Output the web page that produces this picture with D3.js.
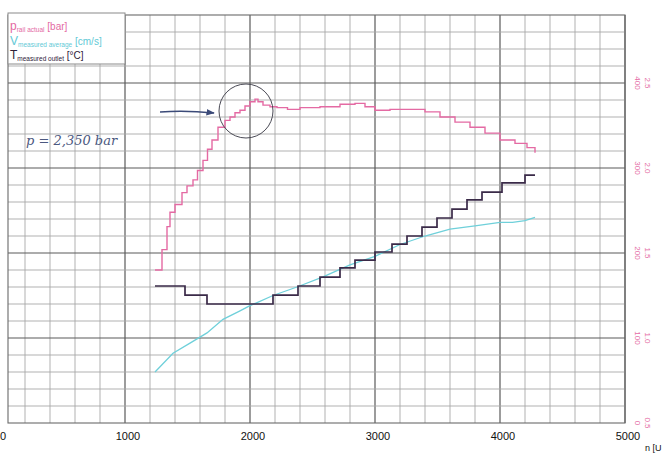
<!DOCTYPE html>
<html><head><meta charset="utf-8">
<script src="https://cdn.jsdelivr.net/npm/d3@7"></script>
<style>
html,body{margin:0;padding:0;background:#fff;overflow:hidden;}
svg{display:block;}
</style></head>
<body>
<script>
// ---- data ----
const xTickLabels = [0, 1000, 2000, 3000, 4000, 5000];
const pTickLabels = [0, 100, 200, 300, 400];
const vTickLabels = ["0.5", "1.0", "1.5", "2.0", "2.5"];

// rail pressure [bar] vs speed [rpm]
const pRpm = [1240,1296,1336,1360,1400,1456,1496,1544,1580,1624,1660,1696,1744,1800,1840,1880,1920,1960,2000,2040,2064,2104,2160,2216,2300,2400,2560,2720,2840,2920,3000,3120,3280,3400,3520,3640,3760,3880,4000,4120,4216,4280];
const pVal = [180,204,231,248,257,271,279,286,297,309,322,333,348,356,360,365,368,373,378,381,378,374,372,371,369,371,372,375,376,372,368,369,369,366,360,354,348,341,333,329,324,318];

// volume flow [cm/s] vs speed
const vRpm = [1240,1384,1520,1656,1784,1920,2000,2184,2376,2584,2800,3000,3200,3400,3600,3800,4000,4100,4200,4280];
const vVal = [0.80,0.91,0.97,1.03,1.11,1.16,1.19,1.25,1.30,1.36,1.43,1.48,1.55,1.60,1.64,1.66,1.68,1.68,1.69,1.71];

// temperature [°C] vs speed (stepwise)
const tRpm = [1240,1480,1656,2184,2384,2560,2720,2840,3000,3136,3256,3376,3496,3616,3736,3856,4016,4200,4280];
const tVal = [40.3,37.6,35.0,37.6,40.3,42.9,45.6,47.9,50.3,52.6,55.0,57.6,60.3,62.9,65.6,67.9,70.6,72.9,72.9];

const legendItems = [
  {main:"p", sub:"rail actual", unit:" [bar]", color:"#e46aa3"},
  {main:"V", sub:"measured average", unit:" [cm/s]", color:"#62c9d6"},
  {main:"T", sub:"measured outlet", unit:" [°C]", color:"#2e2238"}
];

// ---- layout ----
const W = 664, H = 455;
const pLeft = 8, pTop = 15, pBottom = 423;
const x = d3.scaleLinear().domain([0, 5000]).range([0, 625]);
const yP = d3.scaleLinear().domain([0, 480]).range([pBottom, pTop]);
const yV = d3.scaleLinear().domain([0.5, 2.9]).range([pBottom, pTop]);
const yT = d3.scaleLinear().domain([0, 120]).range([pBottom, pTop]);

const svg = d3.select("body").append("svg").attr("width", W).attr("height", H);

// grid
const gx = d3.range(200, 5001, 200);
const gy = d3.range(20, 480, 20);
const grid = svg.append("g");
grid.selectAll("line.v").data(gx).join("line")
  .attr("x1", d => x(d)).attr("x2", d => x(d))
  .attr("y1", pTop).attr("y2", pBottom)
  .attr("stroke", d => d % 1000 === 0 ? "#5a5a5a" : "#a8a8a8")
  .attr("stroke-width", d => d % 1000 === 0 ? 1.2 : 0.9);
grid.selectAll("line.h").data(gy).join("line")
  .attr("x1", pLeft).attr("x2", x(5000))
  .attr("y1", d => yP(d)).attr("y2", d => yP(d))
  .attr("stroke", d => d % 100 === 0 ? "#5a5a5a" : "#a8a8a8")
  .attr("stroke-width", d => d % 100 === 0 ? 1.2 : 0.9);
// frame
svg.append("rect").attr("x", pLeft).attr("y", pTop)
  .attr("width", x(5000) - pLeft).attr("height", pBottom - pTop)
  .attr("fill", "none").attr("stroke", "#6a6a6a").attr("stroke-width", 1.1);

// series
const lineP = d3.line().x((d,i) => x(pRpm[i])).y(d => yP(d)).curve(d3.curveStepAfter);
const lineV = d3.line().x((d,i) => x(vRpm[i])).y(d => yV(d)).curve(d3.curveLinear);
const lineT = d3.line().x((d,i) => x(tRpm[i])).y(d => yT(d)).curve(d3.curveStepAfter);

svg.append("path").attr("d", lineV(vVal)).attr("fill", "none")
  .attr("stroke", "#6fd0da").attr("stroke-width", 1.3);
svg.append("path").attr("d", lineT(tVal)).attr("fill", "none")
  .attr("stroke", "#3a2a48").attr("stroke-width", 1.7);
svg.append("path").attr("d", lineP(pVal)).attr("fill", "none")
  .attr("stroke", "#e46aa3").attr("stroke-width", 1.4);

// x tick labels
svg.append("g").selectAll("text").data(xTickLabels).join("text")
  .attr("x", d => x(d) + 3).attr("y", 440)
  .attr("text-anchor", "middle")
  .attr("font-family", "Liberation Sans Narrow, Liberation Sans, Arial, sans-serif")
  .attr("font-size", 11).attr("fill", "#111")
  .text(d => d);
svg.append("text").attr("x", 645).attr("y", 451)
  .attr("font-family", "Liberation Sans, Arial, sans-serif")
  .attr("font-size", 9).attr("fill", "#111").text("n [U");

// right axis labels (rotated)
svg.append("g").selectAll("text").data(pTickLabels).join("text")
  .attr("transform", d => `translate(638,${yP(d)}) rotate(90)`)
  .attr("text-anchor", "middle").attr("dy", "0.35em")
  .attr("font-family", "Liberation Sans, Arial, sans-serif")
  .attr("font-size", 8).attr("fill", "#e46aa3")
  .text(d => d);
svg.append("g").selectAll("text").data(vTickLabels).join("text")
  .attr("transform", (d,i) => `translate(648,${yP(pTickLabels[i])}) rotate(90)`)
  .attr("text-anchor", "middle").attr("dy", "0.35em")
  .attr("font-family", "Liberation Sans, Arial, sans-serif")
  .attr("font-size", 8).attr("fill", "#e46aa3")
  .text(d => d);

// legend
const lg = svg.append("g");
lg.append("rect").attr("x", pLeft).attr("y", 13).attr("width", 117).attr("height", 51)
  .attr("fill", "#fff").attr("stroke", "#8a8a8a").attr("stroke-width", 1);
legendItems.forEach((it, i) => {
  const t = lg.append("text").attr("x", 10).attr("y", 30 + i * 14.5)
    .attr("font-family", "Liberation Sans, Arial, sans-serif").attr("fill", it.color);
  t.append("tspan").attr("font-size", 12).text(it.main);
  t.append("tspan").attr("font-size", 6.5).attr("dy", 2).text(it.sub);
  t.append("tspan").attr("font-size", 10).attr("dy", -2).text(it.unit);
});

// hand annotation
svg.append("text").attr("x", 26).attr("y", 145)
  .attr("font-family", "DejaVu Serif, serif").attr("font-style", "italic")
  .attr("font-size", 13).attr("fill", "#4b5880").text("p = 2,350 bar");
svg.append("defs").append("marker").attr("id", "ah")
  .attr("viewBox", "0 0 10 10").attr("refX", 9).attr("refY", 5)
  .attr("markerWidth", 6).attr("markerHeight", 6).attr("orient", "auto")
  .append("path").attr("d", "M0,1 L10,5 L0,9 Z").attr("fill", "#3b4a78");
svg.append("path").attr("d", "M160,112 Q185,110 214,113")
  .attr("fill", "none").attr("stroke", "#3b4a78").attr("stroke-width", 1.4)
  .attr("marker-end", "url(#ah)");
svg.append("circle").attr("cx", 246).attr("cy", 111).attr("r", 27)
  .attr("fill", "none").attr("stroke", "#4a4a55").attr("stroke-width", 1);
</script>
</body></html>
